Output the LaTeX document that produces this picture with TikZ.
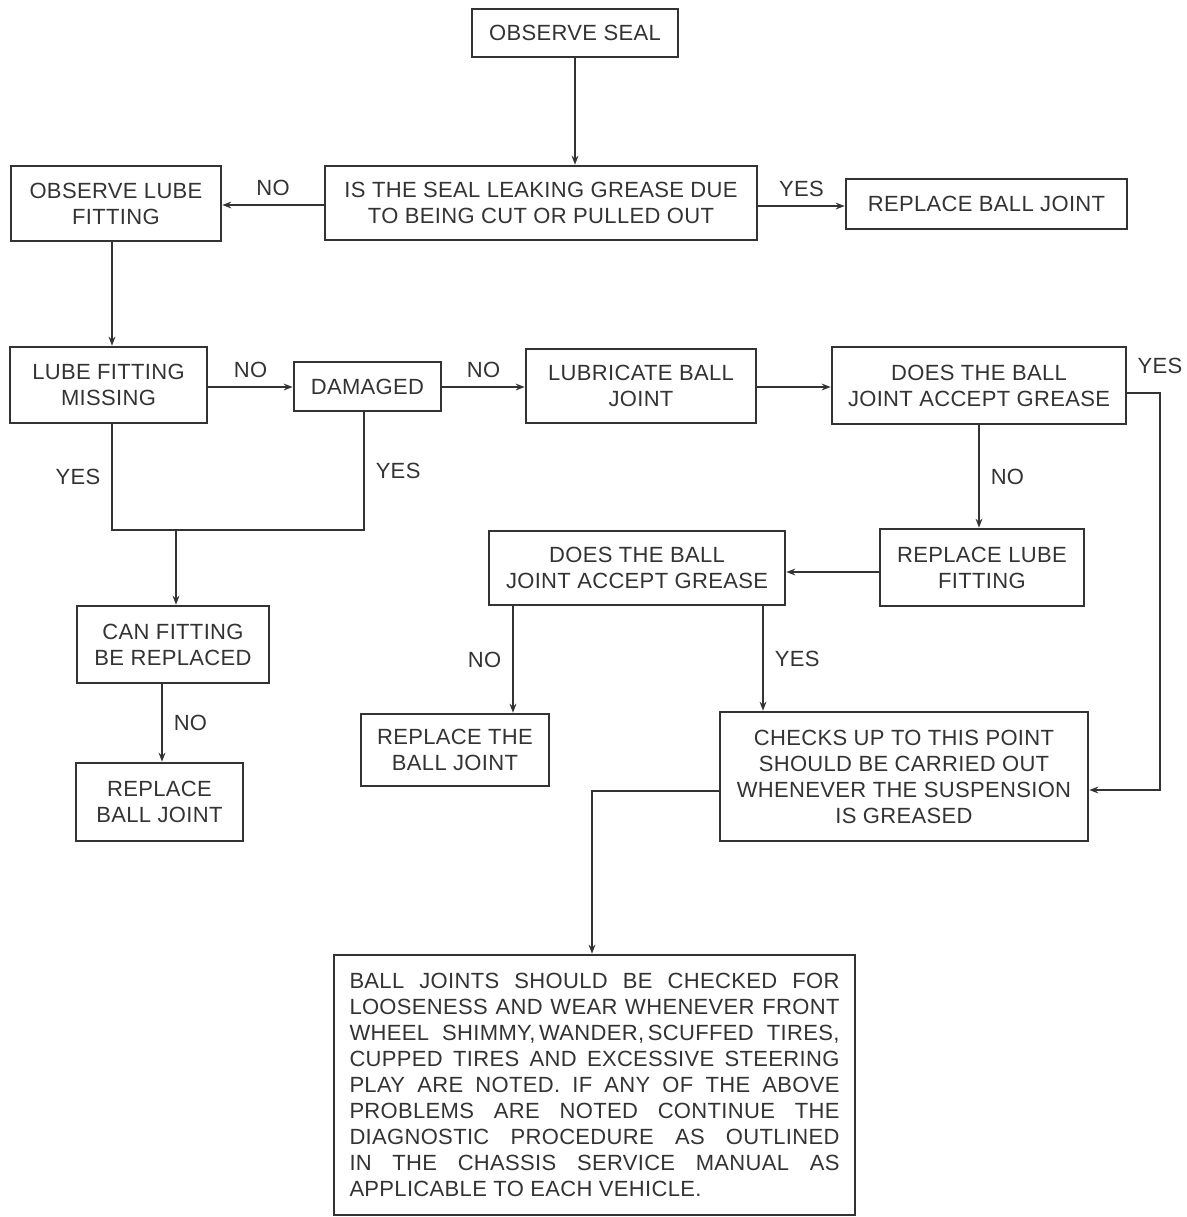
\documentclass[tikz,border=0pt]{standalone}
\usepackage{fontspec}
\setmainfont{Liberation Sans}[LetterSpace=1.5]
\usetikzlibrary{arrows.meta, calc}
\definecolor{ink}{HTML}{333333}
\newcommand{\fullline}[1]{\makebox[245pt][s]{#1}}

\begin{document}
\begin{tikzpicture}[
    x={(0.5pt,0pt)},
    y={(0pt,-0.5pt)},
    >={Stealth[length=4.5pt,width=3.4pt]},
    font=\fontsize{11}{13}\selectfont,
    every node/.style={text=ink},
    box/.style={draw=ink, line width=1.3pt, align=center, inner sep=0pt},
    flow/.style={draw=ink, line width=1.1pt},
    arrow/.style={flow, ->}
]

    % --- Frame ---
    \useasboundingbox (0,0) rectangle (1187,1217);

    % --- Top row ---
    \node[box, minimum width=103pt, minimum height=24pt] (seal) at (575,33) {OBSERVE SEAL};
    \node[box, minimum width=216pt, minimum height=37pt] (leak) at (541,203) {IS THE SEAL LEAKING GREASE DUE\\TO BEING CUT OR PULLED OUT};
    \node[box, minimum width=140.5pt, minimum height=25pt] (rbjtop) at (986.5,204) {REPLACE BALL JOINT};
    \node[box, minimum width=105pt, minimum height=37.5pt] (obslube) at (116,203.5) {OBSERVE LUBE\\FITTING};

    % --- Second row ---
    \node[box, minimum width=98.5pt, minimum height=38pt] (missing) at (108.5,385) {LUBE FITTING\\MISSING};
    \node[box, minimum width=73.5pt, minimum height=24.5pt] (damaged) at (367.5,386.5) {DAMAGED};
    \node[box, minimum width=115pt, minimum height=37pt] (lubricate) at (641,386) {LUBRICATE BALL\\JOINT};
    \node[box, minimum width=147pt, minimum height=38.5pt] (acceptA) at (979,385.5) {DOES THE BALL\\JOINT ACCEPT GREASE};

    % --- Third row ---
    \node[box, minimum width=102pt, minimum height=38.5pt] (rlube) at (982,567.5) {REPLACE LUBE\\FITTING};
    \node[box, minimum width=148pt, minimum height=37pt] (acceptB) at (637,568) {DOES THE BALL\\JOINT ACCEPT GREASE};
    \node[box, minimum width=96pt, minimum height=38.5pt] (canfit) at (173,644.5) {CAN FITTING\\BE REPLACED};

    % --- Fourth row ---
    \node[box, minimum width=83.5pt, minimum height=39pt] (rbjleft) at (159.5,802) {REPLACE\\BALL JOINT};
    \node[box, minimum width=94pt, minimum height=36pt] (rthe) at (455,750) {REPLACE THE\\BALL JOINT};
    \node[box, minimum width=184pt, minimum height=64.5pt] (checks) at (904,776.5) {CHECKS UP TO THIS POINT\\SHOULD BE CARRIED OUT\\WHENEVER THE SUSPENSION\\IS GREASED};

    % --- Note ---
    \node[box, minimum width=260.5pt, minimum height=130pt, align=left] (note) at (594.5,1085) {%
        \fullline{BALL JOINTS SHOULD BE CHECKED FOR}\\
        \fullline{LOOSENESS AND WEAR WHENEVER FRONT}\\
        \fullline{WHEEL SHIMMY,\,WANDER,\,SCUFFED TIRES,}\\
        \fullline{CUPPED TIRES AND EXCESSIVE STEERING}\\
        \fullline{PLAY ARE NOTED. IF ANY OF THE ABOVE}\\
        \fullline{PROBLEMS ARE NOTED CONTINUE THE}\\
        \fullline{DIAGNOSTIC PROCEDURE AS OUTLINED}\\
        \fullline{IN THE CHASSIS SERVICE MANUAL AS}\\
        APPLICABLE TO EACH VEHICLE.};

    % --- Connectors ---
    \coordinate (yesjoin) at (176,530);

    \draw[arrow] (seal.south) -- (seal.south |- leak.north);
    \draw[arrow] (leak.west |- 0,205) -- node[above=1pt] (noA) {NO} (obslube.east |- 0,205);
    \draw[arrow] (leak.east |- 0,206) -- node[above=1pt] (yesA) {YES} (rbjtop.west |- 0,206);
    \draw[arrow] (obslube.south -| 112,0) -- (missing.north -| 112,0);

    \draw[arrow] (missing.east |- 0,387) -- node[above=1pt] (noB) {NO} (damaged.west |- 0,387);
    \draw[arrow] (damaged.east |- 0,387) -- node[above=1pt] (noC) {NO} (lubricate.west |- 0,387);
    \draw[arrow] (lubricate.east |- 0,387) -- (acceptA.west |- 0,387);
    \draw[flow] (missing.south -| 112,0) -- node[left=2pt] (yesB) {YES} (112,530) -- (yesjoin -| 364,0) -- node[right=2pt] (yesC) {YES} (damaged.south -| 364,0);
    \draw[arrow] (yesjoin) -- (yesjoin |- canfit.north);
    \draw[arrow] (canfit.south -| 162,0) -- node[right=2pt] (noD) {NO} (rbjleft.north -| 162,0);

    \draw[arrow] (acceptA.south) -- node[right=2pt] (noE) {NO} (acceptA.south |- rlube.north);
    \draw[arrow] (rlube.west |- 0,572) -- (acceptB.east |- 0,572);
    \draw[arrow] (acceptA.east |- 0,393) -- (1160,393) node[above=6pt] (yesD) {YES} |- (checks.east |- 0,790);
    \draw[arrow] (acceptB.south -| 513,0) -- node[left=2pt] (noF) {NO} (rthe.north -| 513,0);
    \draw[arrow] (acceptB.south -| 763,0) -- node[right=2pt] (yesE) {YES} (checks.north -| 763,0);
    \draw[arrow] (checks.west |- 0,791) -| (note.north -| 592,0);

\end{tikzpicture}
\end{document}
